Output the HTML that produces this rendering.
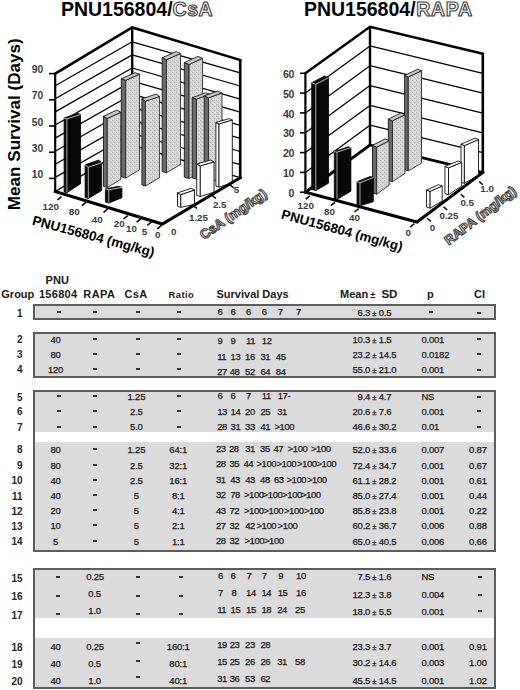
<!DOCTYPE html>
<html><head><meta charset="utf-8">
<style>
html,body{margin:0;padding:0;background:#fff;}
body{width:520px;height:690px;position:relative;overflow:hidden;font-family:"Liberation Sans",sans-serif;color:#2a2a2a;}
b,i{position:absolute;display:block;font-style:normal;white-space:pre;}
b{font-weight:normal;font-size:9.5px;line-height:10px;letter-spacing:-0.2px;color:#1a1a1a;-webkit-text-stroke:0.25px #1a1a1a;}
b.c{width:60px;margin-left:-30px;text-align:center;}
b.r{width:48px;text-align:right;}
b.l{text-align:left;}
b.t{letter-spacing:-0.4px;}
b.g{width:22.6px;text-align:right;font-weight:bold;font-size:10px;line-height:11px;color:#262626;-webkit-text-stroke:0;letter-spacing:0;}
i.d{width:4px;height:2px;background:#333;}
.h{position:absolute;font-weight:bold;font-size:11px;line-height:12px;color:#1a1a1a;white-space:pre;}
.box{position:absolute;left:33px;width:459px;border:2px solid #5c5c5c;background:#dbdbdb;}
.band{position:absolute;left:35px;width:459px;background:#fff;}
svg{position:absolute;left:0;top:0;}
</style></head><body>
<svg width="520" height="262" viewBox="0 0 520 262" font-family="Liberation Sans, sans-serif">
<defs><pattern id="stip" width="4" height="4" patternUnits="userSpaceOnUse"><rect width="4" height="4" fill="#d2d2d2"/><rect x="0" y="0" width="1" height="1" fill="#b0b0b0"/><rect x="2" y="2" width="1" height="1" fill="#b8b8b8"/><rect x="3" y="0" width="1" height="1" fill="#e6e6e6"/><rect x="1" y="3" width="1" height="1" fill="#e2e2e2"/></pattern></defs>
<polygon points="55.2,73.6 132.2,27.4 132.2,145.1 55.2,191.5" fill="#fff"/>
<polygon points="132.2,27.4 240.2,60.0 240.2,177.7 132.2,145.1" fill="#fff"/>
<line x1="55.2" y1="177.4" x2="132.2" y2="133.5" stroke="#000" stroke-width="1.3" stroke-linecap="butt"/>
<line x1="132.2" y1="133.5" x2="240.2" y2="164.6" stroke="#000" stroke-width="1.3" stroke-linecap="butt"/>
<line x1="55.2" y1="164.3" x2="132.2" y2="120.4" stroke="#000" stroke-width="1.3" stroke-linecap="butt"/>
<line x1="132.2" y1="120.4" x2="240.2" y2="151.5" stroke="#000" stroke-width="1.3" stroke-linecap="butt"/>
<line x1="55.2" y1="151.2" x2="132.2" y2="107.3" stroke="#000" stroke-width="1.3" stroke-linecap="butt"/>
<line x1="132.2" y1="107.3" x2="240.2" y2="138.4" stroke="#000" stroke-width="1.3" stroke-linecap="butt"/>
<line x1="55.2" y1="138.1" x2="132.2" y2="94.2" stroke="#000" stroke-width="1.3" stroke-linecap="butt"/>
<line x1="132.2" y1="94.2" x2="240.2" y2="125.3" stroke="#000" stroke-width="1.3" stroke-linecap="butt"/>
<line x1="55.2" y1="125.0" x2="132.2" y2="81.1" stroke="#000" stroke-width="1.3" stroke-linecap="butt"/>
<line x1="132.2" y1="81.1" x2="240.2" y2="112.2" stroke="#000" stroke-width="1.3" stroke-linecap="butt"/>
<line x1="55.2" y1="111.9" x2="132.2" y2="68.0" stroke="#000" stroke-width="1.3" stroke-linecap="butt"/>
<line x1="132.2" y1="68.0" x2="240.2" y2="99.1" stroke="#000" stroke-width="1.3" stroke-linecap="butt"/>
<line x1="55.2" y1="98.8" x2="132.2" y2="54.9" stroke="#000" stroke-width="1.3" stroke-linecap="butt"/>
<line x1="132.2" y1="54.9" x2="240.2" y2="86.0" stroke="#000" stroke-width="1.3" stroke-linecap="butt"/>
<line x1="55.2" y1="85.7" x2="132.2" y2="41.8" stroke="#000" stroke-width="1.3" stroke-linecap="butt"/>
<line x1="132.2" y1="41.8" x2="240.2" y2="72.9" stroke="#000" stroke-width="1.3" stroke-linecap="butt"/>
<polyline points="55.2,191.5 132.2,145.1 240.2,177.7" fill="none" stroke="#000" stroke-width="1.4" stroke-linejoin="miter" stroke-linecap="square"/>
<polyline points="55.2,73.6 132.2,27.4 240.2,60.0" fill="none" stroke="#000" stroke-width="2.6" stroke-linejoin="miter" stroke-linecap="square"/>
<line x1="132.2" y1="27.4" x2="132.2" y2="145.1" stroke="#000" stroke-width="2.4" stroke-linecap="butt"/>
<line x1="240.2" y1="60.0" x2="240.2" y2="177.7" stroke="#000" stroke-width="2.6" stroke-linecap="butt"/>
<line x1="55.2" y1="73.6" x2="55.2" y2="191.5" stroke="#000" stroke-width="2.2" stroke-linecap="butt"/>
<line x1="49.0" y1="178.4" x2="55.2" y2="178.4" stroke="#000" stroke-width="1.6" stroke-linecap="butt"/>
<text x="43.3" y="177.9" font-size="10.3" font-weight="bold" fill="#3a3a3a" text-anchor="end">10</text>
<line x1="49.0" y1="152.2" x2="55.2" y2="152.2" stroke="#000" stroke-width="1.6" stroke-linecap="butt"/>
<text x="43.3" y="151.7" font-size="10.3" font-weight="bold" fill="#3a3a3a" text-anchor="end">30</text>
<line x1="49.0" y1="126.0" x2="55.2" y2="126.0" stroke="#000" stroke-width="1.6" stroke-linecap="butt"/>
<text x="43.3" y="125.5" font-size="10.3" font-weight="bold" fill="#3a3a3a" text-anchor="end">50</text>
<line x1="49.0" y1="99.8" x2="55.2" y2="99.8" stroke="#000" stroke-width="1.6" stroke-linecap="butt"/>
<text x="43.3" y="99.3" font-size="10.3" font-weight="bold" fill="#3a3a3a" text-anchor="end">70</text>
<line x1="49.0" y1="73.6" x2="55.2" y2="73.6" stroke="#000" stroke-width="1.6" stroke-linecap="butt"/>
<text x="43.3" y="73.1" font-size="10.3" font-weight="bold" fill="#3a3a3a" text-anchor="end">90</text>
<polygon points="162.2,57.8 166.5,59.7 166.5,172.8 162.2,171.5" fill="#6a6a6a" stroke="#1a1a1a" stroke-width="0.9" stroke-linejoin="round"/>
<polygon points="166.5,59.7 180.5,53.5 180.5,164.4 166.5,172.8" fill="url(#stip)" stroke="#2a2a2a" stroke-width="0.9" stroke-linejoin="round"/>
<polygon points="166.5,59.7 162.2,57.8 176.2,51.6 180.5,53.5" fill="#c8c8c8" stroke="#1a1a1a" stroke-width="0.9" stroke-linejoin="round"/>
<polygon points="121.3,78.8 125.7,80.3 125.7,178.1 121.3,176.8" fill="#6a6a6a" stroke="#1a1a1a" stroke-width="0.9" stroke-linejoin="round"/>
<polygon points="125.7,80.3 139.5,74.2 139.5,169.8 125.7,178.1" fill="url(#stip)" stroke="#2a2a2a" stroke-width="0.9" stroke-linejoin="round"/>
<polygon points="125.7,80.3 121.3,78.8 135.1,72.7 139.5,74.2" fill="#c8c8c8" stroke="#1a1a1a" stroke-width="0.9" stroke-linejoin="round"/>
<polygon points="184.3,62.6 189.1,64.5 189.1,178.6 184.3,177.2" fill="#6a6a6a" stroke="#1a1a1a" stroke-width="0.9" stroke-linejoin="round"/>
<polygon points="189.1,64.5 202.6,58.3 202.6,170.5 189.1,178.6" fill="url(#stip)" stroke="#2a2a2a" stroke-width="0.9" stroke-linejoin="round"/>
<polygon points="189.1,64.5 184.3,62.6 197.8,56.4 202.6,58.3" fill="#c8c8c8" stroke="#1a1a1a" stroke-width="0.9" stroke-linejoin="round"/>
<polygon points="192.2,97.8 196.5,99.2 196.5,179.2 192.2,177.9" fill="#6a6a6a" stroke="#1a1a1a" stroke-width="0.9" stroke-linejoin="round"/>
<polygon points="196.5,99.2 209.8,94.2 209.8,171.2 196.5,179.2" fill="url(#stip)" stroke="#2a2a2a" stroke-width="0.9" stroke-linejoin="round"/>
<polygon points="196.5,99.2 192.2,97.8 205.5,92.8 209.8,94.2" fill="#c8c8c8" stroke="#1a1a1a" stroke-width="0.9" stroke-linejoin="round"/>
<polygon points="141.9,98.8 145.4,101.2 145.4,186.0 141.9,184.9" fill="#6a6a6a" stroke="#1a1a1a" stroke-width="0.9" stroke-linejoin="round"/>
<polygon points="145.4,101.2 159.6,96.5 159.6,177.5 145.4,186.0" fill="url(#stip)" stroke="#2a2a2a" stroke-width="0.9" stroke-linejoin="round"/>
<polygon points="145.4,101.2 141.9,98.8 156.1,94.1 159.6,96.5" fill="#c8c8c8" stroke="#1a1a1a" stroke-width="0.9" stroke-linejoin="round"/>
<polygon points="204.2,95.9 208.6,97.8 208.6,184.3 204.2,183.0" fill="#6a6a6a" stroke="#1a1a1a" stroke-width="0.9" stroke-linejoin="round"/>
<polygon points="208.6,97.8 222.0,93.0 222.0,176.3 208.6,184.3" fill="url(#stip)" stroke="#2a2a2a" stroke-width="0.9" stroke-linejoin="round"/>
<polygon points="208.6,97.8 204.2,95.9 217.6,91.1 222.0,93.0" fill="#c8c8c8" stroke="#1a1a1a" stroke-width="0.9" stroke-linejoin="round"/>
<polygon points="215.9,122.5 219.0,123.9 219.0,187.1 215.9,186.2" fill="#fff" stroke="#111" stroke-width="0.9" stroke-linejoin="round"/>
<polygon points="219.0,123.9 232.3,120.0 232.3,182.8 219.0,187.1" fill="#fff" stroke="#111" stroke-width="0.9" stroke-linejoin="round"/>
<polygon points="219.0,123.9 215.9,122.5 229.2,118.6 232.3,120.0" fill="#fff" stroke="#111" stroke-width="0.9" stroke-linejoin="round"/>
<polygon points="103.5,116.2 107.3,118.5 107.3,187.5 103.5,186.4" fill="#6a6a6a" stroke="#1a1a1a" stroke-width="0.9" stroke-linejoin="round"/>
<polygon points="107.3,118.5 120.8,112.3 120.8,179.4 107.3,187.5" fill="url(#stip)" stroke="#2a2a2a" stroke-width="0.9" stroke-linejoin="round"/>
<polygon points="107.3,118.5 103.5,116.2 117.0,110.0 120.8,112.3" fill="#c8c8c8" stroke="#1a1a1a" stroke-width="0.9" stroke-linejoin="round"/>
<polygon points="64.1,118.0 66.9,119.0 66.9,192.7 64.1,191.9" fill="#0c0c0c" stroke="#000" stroke-width="0.8" stroke-linejoin="round"/>
<polygon points="66.9,119.0 80.5,114.3 80.5,183.8 66.9,192.7" fill="#080808" stroke="#000" stroke-width="0.8" stroke-linejoin="round"/>
<polygon points="66.9,119.0 64.1,118.0 77.7,113.3 80.5,114.3" fill="#111" stroke="#000" stroke-width="0.8" stroke-linejoin="round"/>
<polyline points="64.4,118.2 66.9,119.0 80.2,114.5" fill="none" stroke="#cfcfcf" stroke-width="0.9" stroke-linejoin="miter" stroke-linecap="square"/>
<line x1="66.9" y1="119.0" x2="66.9" y2="192.2" stroke="#bdbdbd" stroke-width="0.9" stroke-linecap="butt"/>
<polygon points="196.7,164.0 200.3,165.8 200.3,196.5 196.7,195.4" fill="#fff" stroke="#111" stroke-width="0.9" stroke-linejoin="round"/>
<polygon points="200.3,165.8 214.0,161.9 214.0,192.2 200.3,196.5" fill="#fff" stroke="#111" stroke-width="0.9" stroke-linejoin="round"/>
<polygon points="200.3,165.8 196.7,164.0 210.4,160.1 214.0,161.9" fill="#fff" stroke="#111" stroke-width="0.9" stroke-linejoin="round"/>
<polygon points="85.1,164.8 88.3,167.3 88.3,198.5 85.1,197.5" fill="#0c0c0c" stroke="#000" stroke-width="0.8" stroke-linejoin="round"/>
<polygon points="88.3,167.3 101.7,162.6 101.7,190.5 88.3,198.5" fill="#080808" stroke="#000" stroke-width="0.8" stroke-linejoin="round"/>
<polygon points="88.3,167.3 85.1,164.8 98.5,160.1 101.7,162.6" fill="#111" stroke="#000" stroke-width="0.8" stroke-linejoin="round"/>
<polyline points="85.4,165.0 88.3,167.3 101.4,162.8" fill="none" stroke="#cfcfcf" stroke-width="0.9" stroke-linejoin="miter" stroke-linecap="square"/>
<line x1="88.3" y1="167.3" x2="88.3" y2="198.0" stroke="#bdbdbd" stroke-width="0.9" stroke-linecap="butt"/>
<polygon points="105.4,188.8 108.8,189.8 108.8,203.1 105.4,202.1" fill="#0c0c0c" stroke="#000" stroke-width="0.8" stroke-linejoin="round"/>
<polygon points="108.8,189.8 121.9,187.3 121.9,197.7 108.8,203.1" fill="#080808" stroke="#000" stroke-width="0.8" stroke-linejoin="round"/>
<polygon points="108.8,189.8 105.4,188.8 118.5,186.3 121.9,187.3" fill="#111" stroke="#000" stroke-width="0.8" stroke-linejoin="round"/>
<polyline points="105.7,189.0 108.8,189.8 121.6,187.5" fill="none" stroke="#cfcfcf" stroke-width="0.9" stroke-linejoin="miter" stroke-linecap="square"/>
<line x1="108.8" y1="189.8" x2="108.8" y2="202.6" stroke="#bdbdbd" stroke-width="0.9" stroke-linecap="butt"/>
<polygon points="177.5,192.9 180.8,194.6 180.8,207.3 177.5,206.3" fill="#fff" stroke="#111" stroke-width="0.9" stroke-linejoin="round"/>
<polygon points="180.8,194.6 194.5,190.0 194.5,204.4 180.8,207.3" fill="#fff" stroke="#111" stroke-width="0.9" stroke-linejoin="round"/>
<polygon points="180.8,194.6 177.5,192.9 191.2,188.3 194.5,190.0" fill="#fff" stroke="#111" stroke-width="0.9" stroke-linejoin="round"/>
<polyline points="55.2,191.5 162.3,224.0 240.2,177.7" fill="none" stroke="#000" stroke-width="3.0" stroke-linejoin="miter" stroke-linecap="square"/>
<line x1="61.5" y1="196.6" x2="57.3" y2="200.0" stroke="#000" stroke-width="1.5" stroke-linecap="butt"/>
<line x1="86.2" y1="202.2" x2="82.0" y2="205.6" stroke="#000" stroke-width="1.5" stroke-linecap="butt"/>
<line x1="107.7" y1="209.0" x2="103.5" y2="212.4" stroke="#000" stroke-width="1.5" stroke-linecap="butt"/>
<line x1="127.7" y1="215.6" x2="123.5" y2="219.0" stroke="#000" stroke-width="1.5" stroke-linecap="butt"/>
<line x1="140.8" y1="218.8" x2="136.6" y2="222.2" stroke="#000" stroke-width="1.5" stroke-linecap="butt"/>
<line x1="151.5" y1="222.0" x2="147.3" y2="225.4" stroke="#000" stroke-width="1.5" stroke-linecap="butt"/>
<line x1="161.5" y1="225.4" x2="157.3" y2="228.8" stroke="#000" stroke-width="1.5" stroke-linecap="butt"/>
<text x="50.8" y="209.9" font-size="9.8" font-weight="bold" fill="#3a3a3a" text-anchor="middle">120</text>
<text x="74.2" y="214.9" font-size="9.8" font-weight="bold" fill="#3a3a3a" text-anchor="middle">80</text>
<text x="97.3" y="223.0" font-size="9.8" font-weight="bold" fill="#3a3a3a" text-anchor="middle">40</text>
<text x="119.2" y="226.9" font-size="9.8" font-weight="bold" fill="#3a3a3a" text-anchor="middle">20</text>
<text x="131.5" y="232.2" font-size="9.8" font-weight="bold" fill="#3a3a3a" text-anchor="middle">10</text>
<text x="144.6" y="235.3" font-size="9.8" font-weight="bold" fill="#3a3a3a" text-anchor="middle">5</text>
<text x="157.7" y="237.6" font-size="9.8" font-weight="bold" fill="#3a3a3a" text-anchor="middle">0</text>
<text x="173.8" y="234.9" font-size="9.8" font-weight="bold" fill="#3a3a3a" text-anchor="middle">0</text>
<text x="198.5" y="220.8" font-size="9.8" font-weight="bold" fill="#3a3a3a" text-anchor="middle">1.25</text>
<text x="219.7" y="208.0" font-size="9.8" font-weight="bold" fill="#3a3a3a" text-anchor="middle">2.5</text>
<text x="236.5" y="193.4" font-size="9.8" font-weight="bold" fill="#3a3a3a" text-anchor="middle">5</text>
<line x1="192.9" y1="205.3" x2="196.9" y2="208.3" stroke="#000" stroke-width="1.5" stroke-linecap="butt"/>
<line x1="211.9" y1="195.4" x2="215.9" y2="198.4" stroke="#000" stroke-width="1.5" stroke-linecap="butt"/>
<line x1="230.0" y1="185.0" x2="234.0" y2="188.0" stroke="#000" stroke-width="1.5" stroke-linecap="butt"/>
<text transform="translate(19.7,210.2) rotate(-90)" font-size="17.1" font-weight="bold" fill="#000">Mean Survival (Days)</text>
<text transform="translate(31.4,224.4) rotate(15)" font-size="13.5" font-weight="bold" fill="#000">PNU156804 (mg/kg)</text>
<text transform="translate(203.8,240.0) rotate(-34.6)" font-size="13.3" font-weight="bold" fill="#fff" stroke="#444" stroke-width="1.1">CsA (mg/kg)</text>
<text x="60.9" y="15.6" font-size="19.5" font-weight="bold" fill="#000">PNU156804/<tspan fill="#fff" stroke="#3a3a3a" stroke-width="1.1" letter-spacing="0.5">CsA</tspan></text>
<polygon points="305.4,73.3 370.0,26.8 370.0,145.0 305.4,192.2" fill="#fff"/>
<polygon points="370.0,26.8 482.8,53.6 482.8,172.5 370.0,145.0" fill="#fff"/>
<line x1="305.4" y1="172.4" x2="370.0" y2="125.2" stroke="#000" stroke-width="1.3" stroke-linecap="butt"/>
<line x1="370.0" y1="125.2" x2="482.8" y2="152.7" stroke="#000" stroke-width="1.3" stroke-linecap="butt"/>
<line x1="305.4" y1="152.6" x2="370.0" y2="105.4" stroke="#000" stroke-width="1.3" stroke-linecap="butt"/>
<line x1="370.0" y1="105.4" x2="482.8" y2="132.9" stroke="#000" stroke-width="1.3" stroke-linecap="butt"/>
<line x1="305.4" y1="132.8" x2="370.0" y2="85.6" stroke="#000" stroke-width="1.3" stroke-linecap="butt"/>
<line x1="370.0" y1="85.6" x2="482.8" y2="113.1" stroke="#000" stroke-width="1.3" stroke-linecap="butt"/>
<line x1="305.4" y1="112.9" x2="370.0" y2="65.7" stroke="#000" stroke-width="1.3" stroke-linecap="butt"/>
<line x1="370.0" y1="65.7" x2="482.8" y2="93.2" stroke="#000" stroke-width="1.3" stroke-linecap="butt"/>
<line x1="305.4" y1="93.1" x2="370.0" y2="45.9" stroke="#000" stroke-width="1.3" stroke-linecap="butt"/>
<line x1="370.0" y1="45.9" x2="482.8" y2="73.4" stroke="#000" stroke-width="1.3" stroke-linecap="butt"/>
<polyline points="305.4,192.2 370.0,145.0 482.8,172.5" fill="none" stroke="#000" stroke-width="2.8" stroke-linejoin="miter" stroke-linecap="square"/>
<polyline points="305.4,73.3 370.0,26.8 482.8,53.6" fill="none" stroke="#000" stroke-width="2.6" stroke-linejoin="miter" stroke-linecap="square"/>
<line x1="370.0" y1="26.8" x2="370.0" y2="145.0" stroke="#000" stroke-width="2.4" stroke-linecap="butt"/>
<line x1="482.8" y1="53.6" x2="482.8" y2="172.5" stroke="#000" stroke-width="2.6" stroke-linecap="butt"/>
<line x1="305.4" y1="73.3" x2="305.4" y2="192.2" stroke="#000" stroke-width="2.2" stroke-linecap="butt"/>
<line x1="300.0" y1="192.2" x2="305.4" y2="192.2" stroke="#000" stroke-width="1.6" stroke-linecap="butt"/>
<text x="294.0" y="196.8" font-size="10.6" font-weight="bold" fill="#3a3a3a" text-anchor="end" letter-spacing="-0.4">0</text>
<line x1="300.0" y1="172.4" x2="305.4" y2="172.4" stroke="#000" stroke-width="1.6" stroke-linecap="butt"/>
<text x="294.0" y="177.0" font-size="10.6" font-weight="bold" fill="#3a3a3a" text-anchor="end" letter-spacing="-0.4">10</text>
<line x1="300.0" y1="152.6" x2="305.4" y2="152.6" stroke="#000" stroke-width="1.6" stroke-linecap="butt"/>
<text x="294.0" y="157.2" font-size="10.6" font-weight="bold" fill="#3a3a3a" text-anchor="end" letter-spacing="-0.4">20</text>
<line x1="300.0" y1="132.8" x2="305.4" y2="132.8" stroke="#000" stroke-width="1.6" stroke-linecap="butt"/>
<text x="294.0" y="137.3" font-size="10.6" font-weight="bold" fill="#3a3a3a" text-anchor="end" letter-spacing="-0.4">30</text>
<line x1="300.0" y1="112.9" x2="305.4" y2="112.9" stroke="#000" stroke-width="1.6" stroke-linecap="butt"/>
<text x="294.0" y="117.5" font-size="10.6" font-weight="bold" fill="#3a3a3a" text-anchor="end" letter-spacing="-0.4">40</text>
<line x1="300.0" y1="93.1" x2="305.4" y2="93.1" stroke="#000" stroke-width="1.6" stroke-linecap="butt"/>
<text x="294.0" y="97.7" font-size="10.6" font-weight="bold" fill="#3a3a3a" text-anchor="end" letter-spacing="-0.4">50</text>
<line x1="300.0" y1="73.3" x2="305.4" y2="73.3" stroke="#000" stroke-width="1.6" stroke-linecap="butt"/>
<text x="294.0" y="77.9" font-size="10.6" font-weight="bold" fill="#3a3a3a" text-anchor="end" letter-spacing="-0.4">60</text>
<polygon points="404.6,75.4 408.3,77.0 408.3,170.8 404.6,169.7" fill="#6a6a6a" stroke="#1a1a1a" stroke-width="0.9" stroke-linejoin="round"/>
<polygon points="408.3,77.0 421.5,70.8 421.5,163.3 408.3,170.8" fill="url(#stip)" stroke="#2a2a2a" stroke-width="0.9" stroke-linejoin="round"/>
<polygon points="408.3,77.0 404.6,75.4 417.8,69.2 421.5,70.8" fill="#c8c8c8" stroke="#1a1a1a" stroke-width="0.9" stroke-linejoin="round"/>
<polygon points="388.3,119.2 392.5,120.8 392.5,181.7 388.3,180.4" fill="#6a6a6a" stroke="#1a1a1a" stroke-width="0.9" stroke-linejoin="round"/>
<polygon points="392.5,120.8 405.0,114.7 405.0,173.3 392.5,181.7" fill="url(#stip)" stroke="#2a2a2a" stroke-width="0.9" stroke-linejoin="round"/>
<polygon points="392.5,120.8 388.3,119.2 400.8,113.1 405.0,114.7" fill="#c8c8c8" stroke="#1a1a1a" stroke-width="0.9" stroke-linejoin="round"/>
<polygon points="461.0,144.2 464.4,145.6 464.4,183.3 461.0,182.3" fill="#fff" stroke="#111" stroke-width="0.9" stroke-linejoin="round"/>
<polygon points="464.4,145.6 478.5,139.5 478.5,175.2 464.4,183.3" fill="#fff" stroke="#111" stroke-width="0.9" stroke-linejoin="round"/>
<polygon points="464.4,145.6 461.0,144.2 475.1,138.1 478.5,139.5" fill="#fff" stroke="#111" stroke-width="0.9" stroke-linejoin="round"/>
<polygon points="311.7,82.7 315.8,84.3 315.8,190.6 311.7,189.4" fill="#0c0c0c" stroke="#000" stroke-width="0.8" stroke-linejoin="round"/>
<polygon points="315.8,84.3 328.5,77.7 328.5,183.2 315.8,190.6" fill="#080808" stroke="#000" stroke-width="0.8" stroke-linejoin="round"/>
<polygon points="315.8,84.3 311.7,82.7 324.4,76.1 328.5,77.7" fill="#111" stroke="#000" stroke-width="0.8" stroke-linejoin="round"/>
<polyline points="312.0,82.9 315.8,84.3 328.2,77.9" fill="none" stroke="#cfcfcf" stroke-width="0.9" stroke-linejoin="miter" stroke-linecap="square"/>
<line x1="315.8" y1="84.3" x2="315.8" y2="190.1" stroke="#bdbdbd" stroke-width="0.9" stroke-linecap="butt"/>
<polygon points="372.5,145.3 376.7,147.2 376.7,194.2 372.5,192.9" fill="#6a6a6a" stroke="#1a1a1a" stroke-width="0.9" stroke-linejoin="round"/>
<polygon points="376.7,147.2 389.2,140.8 389.2,185.0 376.7,194.2" fill="url(#stip)" stroke="#2a2a2a" stroke-width="0.9" stroke-linejoin="round"/>
<polygon points="376.7,147.2 372.5,145.3 385.0,138.9 389.2,140.8" fill="#c8c8c8" stroke="#1a1a1a" stroke-width="0.9" stroke-linejoin="round"/>
<polygon points="444.9,166.4 448.5,167.8 448.5,194.7 444.9,193.6" fill="#fff" stroke="#111" stroke-width="0.9" stroke-linejoin="round"/>
<polygon points="448.5,167.8 461.7,162.4 461.7,186.0 448.5,194.7" fill="#fff" stroke="#111" stroke-width="0.9" stroke-linejoin="round"/>
<polygon points="448.5,167.8 444.9,166.4 458.1,161.0 461.7,162.4" fill="#fff" stroke="#111" stroke-width="0.9" stroke-linejoin="round"/>
<polygon points="334.3,151.5 337.0,152.2 337.0,199.5 334.3,198.7" fill="#0c0c0c" stroke="#000" stroke-width="0.8" stroke-linejoin="round"/>
<polygon points="337.0,152.2 350.9,147.5 350.9,191.2 337.0,199.5" fill="#080808" stroke="#000" stroke-width="0.8" stroke-linejoin="round"/>
<polygon points="337.0,152.2 334.3,151.5 348.2,146.8 350.9,147.5" fill="#111" stroke="#000" stroke-width="0.8" stroke-linejoin="round"/>
<polyline points="334.6,151.7 337.0,152.2 350.6,147.7" fill="none" stroke="#cfcfcf" stroke-width="0.9" stroke-linejoin="miter" stroke-linecap="square"/>
<line x1="337.0" y1="152.2" x2="337.0" y2="199.0" stroke="#bdbdbd" stroke-width="0.9" stroke-linecap="butt"/>
<polygon points="357.0,181.7 360.0,182.8 360.0,205.8 357.0,204.9" fill="#0c0c0c" stroke="#000" stroke-width="0.8" stroke-linejoin="round"/>
<polygon points="360.0,182.8 373.3,177.5 373.3,201.7 360.0,205.8" fill="#080808" stroke="#000" stroke-width="0.8" stroke-linejoin="round"/>
<polygon points="360.0,182.8 357.0,181.7 370.3,176.4 373.3,177.5" fill="#111" stroke="#000" stroke-width="0.8" stroke-linejoin="round"/>
<polyline points="357.3,181.9 360.0,182.8 373.0,177.7" fill="none" stroke="#cfcfcf" stroke-width="0.9" stroke-linejoin="miter" stroke-linecap="square"/>
<line x1="360.0" y1="182.8" x2="360.0" y2="205.3" stroke="#bdbdbd" stroke-width="0.9" stroke-linecap="butt"/>
<polygon points="426.5,190.0 430.1,191.3 430.1,208.2 426.5,207.1" fill="#fff" stroke="#111" stroke-width="0.9" stroke-linejoin="round"/>
<polygon points="430.1,191.3 442.2,186.0 442.2,200.9 430.1,208.2" fill="#fff" stroke="#111" stroke-width="0.9" stroke-linejoin="round"/>
<polygon points="430.1,191.3 426.5,190.0 438.6,184.7 442.2,186.0" fill="#fff" stroke="#111" stroke-width="0.9" stroke-linejoin="round"/>
<polyline points="305.4,192.2 417.0,222.0 482.8,172.5" fill="none" stroke="#000" stroke-width="3.0" stroke-linejoin="miter" stroke-linecap="square"/>
<line x1="309.9" y1="195.8" x2="305.7" y2="199.2" stroke="#000" stroke-width="1.5" stroke-linecap="butt"/>
<line x1="335.0" y1="202.3" x2="330.8" y2="205.7" stroke="#000" stroke-width="1.5" stroke-linecap="butt"/>
<line x1="358.7" y1="208.6" x2="354.5" y2="212.0" stroke="#000" stroke-width="1.5" stroke-linecap="butt"/>
<line x1="414.4" y1="223.6" x2="410.2" y2="227.0" stroke="#000" stroke-width="1.5" stroke-linecap="butt"/>
<line x1="427.3" y1="218.3" x2="430.9" y2="221.5" stroke="#000" stroke-width="1.5" stroke-linecap="butt"/>
<line x1="443.5" y1="206.8" x2="447.1" y2="210.0" stroke="#000" stroke-width="1.5" stroke-linecap="butt"/>
<line x1="460.8" y1="194.2" x2="464.4" y2="197.4" stroke="#000" stroke-width="1.5" stroke-linecap="butt"/>
<line x1="479.2" y1="181.5" x2="482.8" y2="184.7" stroke="#000" stroke-width="1.5" stroke-linecap="butt"/>
<text x="305.7" y="208.5" font-size="9.8" font-weight="bold" fill="#3a3a3a" text-anchor="middle">120</text>
<text x="329.4" y="215.4" font-size="9.8" font-weight="bold" fill="#3a3a3a" text-anchor="middle">80</text>
<text x="354.5" y="221.3" font-size="9.8" font-weight="bold" fill="#3a3a3a" text-anchor="middle">40</text>
<text x="408.3" y="235.8" font-size="9.8" font-weight="bold" fill="#3a3a3a" text-anchor="middle">0</text>
<text x="432.6" y="230.8" font-size="9.8" font-weight="bold" fill="#3a3a3a" text-anchor="middle">0</text>
<text x="449.0" y="218.7" font-size="9.8" font-weight="bold" fill="#3a3a3a" text-anchor="middle">0.25</text>
<text x="467.2" y="205.8" font-size="9.8" font-weight="bold" fill="#3a3a3a" text-anchor="middle">0.5</text>
<text x="487.1" y="192.4" font-size="9.8" font-weight="bold" fill="#3a3a3a" text-anchor="middle">1.0</text>
<text transform="translate(280.6,218.3) rotate(15.3)" font-size="13.4" font-weight="bold" fill="#000">PNU156804 (mg/kg)</text>
<text transform="translate(448.8,245.6) rotate(-37.8)" font-size="13.1" font-weight="bold" fill="#fff" stroke="#444" stroke-width="1.1">RAPA (mg/kg)</text>
<text x="303.9" y="15.6" font-size="19.5" font-weight="bold" fill="#000">PNU156804/<tspan dx="0.8" fill="#fff" stroke="#3a3a3a" stroke-width="1.1" letter-spacing="0.6">RAPA</tspan></text>
</svg>
<div class="box" style="top:304px;height:12px"></div>
<div class="box" style="top:332px;height:42px"></div>
<div class="box" style="top:390px;height:158px"></div>
<div class="band" style="top:432px;height:10px"></div>
<div class="box" style="top:568px;height:117px"></div>
<div class="band" style="top:618px;height:20px"></div>
<div class="h" style="left:45.4px;top:274.3px;letter-spacing:0.2px">PNU</div>
<div class="h" style="left:1.3px;top:288.3px">Group</div>
<div class="h" style="left:38.9px;top:288.3px;letter-spacing:0.3px">156804</div>
<div class="h" style="left:83.2px;top:288.3px;letter-spacing:0.5px">RAPA</div>
<div class="h" style="left:124.4px;top:288.3px;letter-spacing:0.4px">CsA</div>
<div class="h" style="left:168.6px;top:288.6px;font-size:9.4px;letter-spacing:0.45px">Ratio</div>
<div class="h" style="left:216.5px;top:288.3px">Survival Days</div>
<div class="h" style="left:340px;top:288.3px">Mean</div><div class="h" style="left:370.2px;top:289.2px;font-size:9.4px">&plusmn;</div><div class="h" style="left:381.4px;top:287.8px;font-size:11.6px">SD</div>
<div class="h" style="left:427px;top:288.3px">p</div>
<div class="h" style="left:474px;top:288.3px">CI</div>
<b class="g" style="left:0;top:307.5px">1</b>
<i class="d" style="left:57px;top:311px"></i>
<i class="d" style="left:93px;top:311px"></i>
<i class="d" style="left:136px;top:311px"></i>
<i class="d" style="left:177px;top:311px"></i>
<b class="l t" style="left:217.6px;top:306.8px">6</b>
<b class="l t" style="left:230.6px;top:306.8px">6</b>
<b class="l t" style="left:246.0px;top:306.8px">6</b>
<b class="l t" style="left:261.8px;top:306.8px">6</b>
<b class="l t" style="left:277.7px;top:306.8px">7</b>
<b class="l t" style="left:296.0px;top:306.8px">7</b>
<b class="r" style="left:322.2px;top:308.0px">6.3</b>
<b class="l" style="left:372.3px;top:308.0px"><span style="font-size:7.6px">&plusmn;</span> 0.5</b>
<i class="d" style="left:429px;top:311px"></i>
<i class="d" style="left:477px;top:312px"></i>
<b class="g" style="left:0;top:334.2px">2</b>
<b class="c" style="left:55.6px;top:334.7px">40</b>
<i class="d" style="left:93px;top:338px"></i>
<i class="d" style="left:136px;top:338px"></i>
<i class="d" style="left:177px;top:338px"></i>
<b class="l t" style="left:217.6px;top:336.4px">9</b>
<b class="l t" style="left:230.6px;top:336.4px">9</b>
<b class="l t" style="left:246.0px;top:336.4px">11</b>
<b class="l t" style="left:261.8px;top:336.4px">12</b>
<b class="r" style="left:322.2px;top:334.7px">10.3</b>
<b class="l" style="left:372.3px;top:334.7px"><span style="font-size:7.6px">&plusmn;</span> 1.5</b>
<b class="l" style="left:421.4px;top:334.7px">0.001</b>
<i class="d" style="left:477px;top:338px"></i>
<b class="g" style="left:0;top:349.0px">3</b>
<b class="c" style="left:55.6px;top:349.5px">80</b>
<i class="d" style="left:93px;top:353px"></i>
<i class="d" style="left:136px;top:353px"></i>
<i class="d" style="left:177px;top:353px"></i>
<b class="l t" style="left:217.2px;top:351.8px">11</b>
<b class="l t" style="left:230.6px;top:351.8px">13</b>
<b class="l t" style="left:245.1px;top:351.8px">16</b>
<b class="l t" style="left:260.4px;top:351.8px">31</b>
<b class="l t" style="left:275.8px;top:351.8px">45</b>
<b class="r" style="left:322.2px;top:349.5px">23.2</b>
<b class="l" style="left:372.3px;top:349.5px"><span style="font-size:7.6px">&plusmn;</span> 14.5</b>
<b class="l" style="left:421.4px;top:349.5px">0.0182</b>
<i class="d" style="left:477px;top:353px"></i>
<b class="g" style="left:0;top:364.4px">4</b>
<b class="c" style="left:55.6px;top:364.9px">120</b>
<i class="d" style="left:93px;top:368px"></i>
<i class="d" style="left:136px;top:368px"></i>
<i class="d" style="left:177px;top:368px"></i>
<b class="l t" style="left:217.2px;top:366.9px">27</b>
<b class="l t" style="left:229.7px;top:366.9px">48</b>
<b class="l t" style="left:245.1px;top:366.9px">52</b>
<b class="l t" style="left:260.4px;top:366.9px">64</b>
<b class="l t" style="left:275.8px;top:366.9px">84</b>
<b class="r" style="left:322.2px;top:364.9px">55.0</b>
<b class="l" style="left:372.3px;top:364.9px"><span style="font-size:7.6px">&plusmn;</span> 21.0</b>
<b class="l" style="left:421.4px;top:364.9px">0.001</b>
<i class="d" style="left:477px;top:369px"></i>
<b class="g" style="left:0;top:391.6px">5</b>
<i class="d" style="left:57px;top:395px"></i>
<i class="d" style="left:93px;top:395px"></i>
<b class="c" style="left:136.4px;top:392.1px">1.25</b>
<i class="d" style="left:177px;top:395px"></i>
<b class="l t" style="left:217.6px;top:391.2px">6</b>
<b class="l t" style="left:230.6px;top:391.2px">6</b>
<b class="l t" style="left:246.0px;top:391.2px">7</b>
<b class="l t" style="left:261.8px;top:391.2px">11</b>
<b class="l t" style="left:277.7px;top:391.2px">17-</b>
<b class="r" style="left:322.2px;top:392.1px">9.4</b>
<b class="l" style="left:372.3px;top:392.1px"><span style="font-size:7.6px">&plusmn;</span> 4.7</b>
<b class="l" style="left:421.4px;top:392.1px">NS</b>
<i class="d" style="left:477px;top:396px"></i>
<b class="g" style="left:0;top:406.3px">6</b>
<i class="d" style="left:57px;top:410px"></i>
<i class="d" style="left:93px;top:410px"></i>
<b class="c" style="left:136.4px;top:406.8px">2.5</b>
<i class="d" style="left:177px;top:410px"></i>
<b class="l t" style="left:217.2px;top:406.7px">13</b>
<b class="l t" style="left:230.6px;top:406.7px">14</b>
<b class="l t" style="left:245.1px;top:406.7px">20</b>
<b class="l t" style="left:260.4px;top:406.7px">25</b>
<b class="l t" style="left:277.2px;top:406.7px">31</b>
<b class="r" style="left:322.2px;top:406.8px">20.6</b>
<b class="l" style="left:372.3px;top:406.8px"><span style="font-size:7.6px">&plusmn;</span> 7.6</b>
<b class="l" style="left:421.4px;top:406.8px">0.001</b>
<i class="d" style="left:477px;top:410px"></i>
<b class="g" style="left:0;top:421.8px">7</b>
<i class="d" style="left:57px;top:426px"></i>
<i class="d" style="left:93px;top:426px"></i>
<b class="c" style="left:136.4px;top:422.3px">5.0</b>
<i class="d" style="left:177px;top:426px"></i>
<b class="l t" style="left:217.2px;top:421.7px">28</b>
<b class="l t" style="left:230.6px;top:421.7px">31</b>
<b class="l t" style="left:245.1px;top:421.7px">33</b>
<b class="l t" style="left:260.4px;top:421.7px">41</b>
<b class="l t" style="left:274.4px;top:421.7px">&gt;100</b>
<b class="r" style="left:322.2px;top:422.3px">46.6</b>
<b class="l" style="left:372.3px;top:422.3px"><span style="font-size:7.6px">&plusmn;</span> 30.2</b>
<b class="l" style="left:421.4px;top:422.3px">0.01</b>
<i class="d" style="left:477px;top:426px"></i>
<b class="g" style="left:0;top:444.4px">8</b>
<b class="c" style="left:55.6px;top:444.9px">80</b>
<i class="d" style="left:93px;top:448px"></i>
<b class="c" style="left:136.4px;top:444.9px">1.25</b>
<b class="c" style="left:178.2px;top:444.9px">64:1</b>
<b class="l t" style="left:215.9px;top:444.0px">23</b>
<b class="l t" style="left:228.9px;top:444.0px">28</b>
<b class="l t" style="left:245.2px;top:444.0px">31</b>
<b class="l t" style="left:260.1px;top:444.0px">35</b>
<b class="l t" style="left:273.4px;top:444.0px">47</b>
<b class="l t" style="left:287.6px;top:444.0px">&gt;100</b>
<b class="l t" style="left:310.9px;top:444.0px">&gt;100</b>
<b class="r" style="left:322.2px;top:444.9px">52.0</b>
<b class="l" style="left:372.3px;top:444.9px"><span style="font-size:7.6px">&plusmn;</span> 33.6</b>
<b class="l" style="left:421.4px;top:444.9px">0.007</b>
<b class="r" style="left:438.8px;top:444.9px">0.87</b>
<b class="g" style="left:0;top:460.0px">9</b>
<b class="c" style="left:55.6px;top:460.5px">80</b>
<i class="d" style="left:93px;top:464px"></i>
<b class="c" style="left:136.4px;top:460.5px">2.5</b>
<b class="c" style="left:178.2px;top:460.5px">32:1</b>
<b class="l t" style="left:215.9px;top:459.3px">28</b>
<b class="l t" style="left:229.4px;top:459.3px">35</b>
<b class="l t" style="left:243.4px;top:459.3px">44</b>
<b class="l t" style="left:256.4px;top:459.3px">&gt;100</b>
<b class="l t" style="left:276.4px;top:459.3px">&gt;100</b>
<b class="l t" style="left:296.9px;top:459.3px">&gt;100</b>
<b class="l t" style="left:316.4px;top:459.3px">&gt;100</b>
<b class="r" style="left:322.2px;top:460.5px">72.4</b>
<b class="l" style="left:372.3px;top:460.5px"><span style="font-size:7.6px">&plusmn;</span> 34.7</b>
<b class="l" style="left:421.4px;top:460.5px">0.001</b>
<b class="r" style="left:438.8px;top:460.5px">0.67</b>
<b class="g" style="left:0;top:475.1px">10</b>
<b class="c" style="left:55.6px;top:475.6px">40</b>
<i class="d" style="left:93px;top:479px"></i>
<b class="c" style="left:136.4px;top:475.6px">2.5</b>
<b class="c" style="left:178.2px;top:475.6px">16:1</b>
<b class="l t" style="left:215.9px;top:474.5px">31</b>
<b class="l t" style="left:230.2px;top:474.5px">43</b>
<b class="l t" style="left:245.2px;top:474.5px">43</b>
<b class="l t" style="left:260.1px;top:474.5px">48</b>
<b class="l t" style="left:273.9px;top:474.5px">63</b>
<b class="l t" style="left:286.4px;top:474.5px">&gt;100</b>
<b class="l t" style="left:306.9px;top:474.5px">&gt;100</b>
<b class="r" style="left:322.2px;top:475.6px">61.1</b>
<b class="l" style="left:372.3px;top:475.6px"><span style="font-size:7.6px">&plusmn;</span> 28.2</b>
<b class="l" style="left:421.4px;top:475.6px">0.001</b>
<b class="r" style="left:438.8px;top:475.6px">0.61</b>
<b class="g" style="left:0;top:490.6px">11</b>
<b class="c" style="left:55.6px;top:491.1px">40</b>
<i class="d" style="left:93px;top:494px"></i>
<b class="c" style="left:136.4px;top:491.1px">5</b>
<b class="c" style="left:178.2px;top:491.1px">8:1</b>
<b class="l t" style="left:215.9px;top:490.0px">32</b>
<b class="l t" style="left:230.2px;top:490.0px">78</b>
<b class="l t" style="left:243.9px;top:490.0px">&gt;100</b>
<b class="l t" style="left:262.6px;top:490.0px">&gt;100</b>
<b class="l t" style="left:282.1px;top:490.0px">&gt;100</b>
<b class="l t" style="left:300.9px;top:490.0px">&gt;100</b>
<b class="r" style="left:322.2px;top:491.1px">85.0</b>
<b class="l" style="left:372.3px;top:491.1px"><span style="font-size:7.6px">&plusmn;</span> 27.4</b>
<b class="l" style="left:421.4px;top:491.1px">0.001</b>
<b class="r" style="left:438.8px;top:491.1px">0.44</b>
<b class="g" style="left:0;top:505.7px">12</b>
<b class="c" style="left:55.6px;top:506.2px">20</b>
<i class="d" style="left:93px;top:509px"></i>
<b class="c" style="left:136.4px;top:506.2px">5</b>
<b class="c" style="left:178.2px;top:506.2px">4:1</b>
<b class="l t" style="left:215.9px;top:505.5px">43</b>
<b class="l t" style="left:229.4px;top:505.5px">72</b>
<b class="l t" style="left:243.9px;top:505.5px">&gt;100</b>
<b class="l t" style="left:263.4px;top:505.5px">&gt;100</b>
<b class="l t" style="left:283.9px;top:505.5px">&gt;100</b>
<b class="l t" style="left:303.9px;top:505.5px">&gt;100</b>
<b class="r" style="left:322.2px;top:506.2px">85.8</b>
<b class="l" style="left:372.3px;top:506.2px"><span style="font-size:7.6px">&plusmn;</span> 23.8</b>
<b class="l" style="left:421.4px;top:506.2px">0.001</b>
<b class="r" style="left:438.8px;top:506.2px">0.22</b>
<b class="g" style="left:0;top:520.8px">13</b>
<b class="c" style="left:55.6px;top:521.3px">10</b>
<i class="d" style="left:93px;top:524px"></i>
<b class="c" style="left:136.4px;top:521.3px">5</b>
<b class="c" style="left:178.2px;top:521.3px">2:1</b>
<b class="l t" style="left:215.9px;top:520.5px">27</b>
<b class="l t" style="left:229.4px;top:520.5px">32</b>
<b class="l t" style="left:245.2px;top:520.5px">42</b>
<b class="l t" style="left:256.4px;top:520.5px">&gt;100</b>
<b class="l t" style="left:277.6px;top:520.5px">&gt;100</b>
<b class="r" style="left:322.2px;top:521.3px">60.2</b>
<b class="l" style="left:372.3px;top:521.3px"><span style="font-size:7.6px">&plusmn;</span> 36.7</b>
<b class="l" style="left:421.4px;top:521.3px">0.006</b>
<b class="r" style="left:438.8px;top:521.3px">0.88</b>
<b class="g" style="left:0;top:536.3px">14</b>
<b class="c" style="left:55.6px;top:536.8px">5</b>
<i class="d" style="left:93px;top:540px"></i>
<b class="c" style="left:136.4px;top:536.8px">5</b>
<b class="c" style="left:178.2px;top:536.8px">1:1</b>
<b class="l t" style="left:215.9px;top:535.7px">28</b>
<b class="l t" style="left:229.4px;top:535.7px">32</b>
<b class="l t" style="left:244.4px;top:535.7px">&gt;100</b>
<b class="l t" style="left:263.9px;top:535.7px">&gt;100</b>
<b class="r" style="left:322.2px;top:536.8px">65.0</b>
<b class="l" style="left:372.3px;top:536.8px"><span style="font-size:7.6px">&plusmn;</span> 40.5</b>
<b class="l" style="left:421.4px;top:536.8px">0.006</b>
<b class="r" style="left:438.8px;top:536.8px">0.66</b>
<b class="g" style="left:0;top:572.7px">15</b>
<i class="d" style="left:56px;top:576px"></i>
<b class="l" style="left:86.2px;top:572.2px">0.25</b>
<i class="d" style="left:136px;top:576px"></i>
<i class="d" style="left:179px;top:576px"></i>
<b class="l t" style="left:218.1px;top:570.7px">6</b>
<b class="l t" style="left:230.6px;top:570.7px">6</b>
<b class="l t" style="left:246.4px;top:570.7px">7</b>
<b class="l t" style="left:261.8px;top:570.7px">7</b>
<b class="l t" style="left:278.3px;top:570.7px">9</b>
<b class="l t" style="left:296.0px;top:570.7px">10</b>
<b class="r" style="left:322.2px;top:572.2px">7.5</b>
<b class="l" style="left:372.3px;top:572.2px"><span style="font-size:7.6px">&plusmn;</span> 1.6</b>
<b class="l" style="left:421.4px;top:572.2px">NS</b>
<i class="d" style="left:478px;top:576px"></i>
<b class="g" style="left:0;top:590.9px">16</b>
<i class="d" style="left:56px;top:595px"></i>
<b class="l" style="left:88.3px;top:589.2px">0.5</b>
<i class="d" style="left:136px;top:595px"></i>
<i class="d" style="left:179px;top:595px"></i>
<b class="l t" style="left:218.1px;top:587.6px">7</b>
<b class="l t" style="left:231.6px;top:587.6px">8</b>
<b class="l t" style="left:246.0px;top:587.6px">14</b>
<b class="l t" style="left:261.4px;top:587.6px">14</b>
<b class="l t" style="left:277.7px;top:587.6px">15</b>
<b class="l t" style="left:296.0px;top:587.6px">16</b>
<b class="r" style="left:322.2px;top:589.8px">12.3</b>
<b class="l" style="left:372.3px;top:589.8px"><span style="font-size:7.6px">&plusmn;</span> 3.8</b>
<b class="l" style="left:421.4px;top:589.8px">0.004</b>
<i class="d" style="left:478px;top:594px"></i>
<b class="g" style="left:0;top:609.5px">17</b>
<i class="d" style="left:56px;top:613px"></i>
<b class="l" style="left:88.3px;top:606.1px">1.0</b>
<i class="d" style="left:136px;top:613px"></i>
<i class="d" style="left:179px;top:613px"></i>
<b class="l t" style="left:217.2px;top:604.9px">11</b>
<b class="l t" style="left:230.6px;top:604.9px">15</b>
<b class="l t" style="left:246.0px;top:604.9px">15</b>
<b class="l t" style="left:261.4px;top:604.9px">18</b>
<b class="l t" style="left:277.2px;top:604.9px">24</b>
<b class="l t" style="left:295.1px;top:604.9px">25</b>
<b class="r" style="left:322.2px;top:606.8px">18.0</b>
<b class="l" style="left:372.3px;top:606.8px"><span style="font-size:7.6px">&plusmn;</span> 5.5</b>
<b class="l" style="left:421.4px;top:606.8px">0.001</b>
<i class="d" style="left:478px;top:610px"></i>
<b class="g" style="left:0;top:641.5px">18</b>
<b class="c" style="left:55.6px;top:642.0px">40</b>
<b class="l" style="left:86.2px;top:641.5px">0.25</b>
<i class="d" style="left:136px;top:642px"></i>
<b class="c" style="left:178.2px;top:642.0px">160:1</b>
<b class="l t" style="left:217.2px;top:639.5px">19</b>
<b class="l t" style="left:229.7px;top:639.5px">23</b>
<b class="l t" style="left:245.1px;top:639.5px">23</b>
<b class="l t" style="left:260.4px;top:639.5px">28</b>
<b class="r" style="left:322.2px;top:641.5px">23.3</b>
<b class="l" style="left:372.3px;top:641.5px"><span style="font-size:7.6px">&plusmn;</span> 3.7</b>
<b class="l" style="left:421.4px;top:641.5px">0.001</b>
<b class="r" style="left:438.8px;top:641.5px">0.91</b>
<b class="g" style="left:0;top:658.5px">19</b>
<b class="c" style="left:55.6px;top:659.0px">40</b>
<b class="l" style="left:88.3px;top:659.0px">0.5</b>
<i class="d" style="left:136px;top:660px"></i>
<b class="c" style="left:178.2px;top:659.0px">80:1</b>
<b class="l t" style="left:217.2px;top:656.7px">15</b>
<b class="l t" style="left:229.7px;top:656.7px">25</b>
<b class="l t" style="left:245.1px;top:656.7px">26</b>
<b class="l t" style="left:260.4px;top:656.7px">26</b>
<b class="l t" style="left:277.2px;top:656.7px">31</b>
<b class="l t" style="left:295.1px;top:656.7px">58</b>
<b class="r" style="left:322.2px;top:658.2px">30.2</b>
<b class="l" style="left:372.3px;top:658.2px"><span style="font-size:7.6px">&plusmn;</span> 14.6</b>
<b class="l" style="left:421.4px;top:658.2px">0.003</b>
<b class="r" style="left:438.8px;top:658.2px">1.00</b>
<b class="g" style="left:0;top:675.5px">20</b>
<b class="c" style="left:55.6px;top:676.0px">40</b>
<b class="l" style="left:88.3px;top:676.2px">1.0</b>
<i class="d" style="left:136px;top:676px"></i>
<b class="c" style="left:178.2px;top:676.0px">40:1</b>
<b class="l t" style="left:217.2px;top:674.0px">31</b>
<b class="l t" style="left:229.7px;top:674.0px">36</b>
<b class="l t" style="left:245.1px;top:674.0px">53</b>
<b class="l t" style="left:260.4px;top:674.0px">62</b>
<b class="r" style="left:322.2px;top:675.5px">45.5</b>
<b class="l" style="left:372.3px;top:675.5px"><span style="font-size:7.6px">&plusmn;</span> 14.5</b>
<b class="l" style="left:421.4px;top:675.5px">0.001</b>
<b class="r" style="left:438.8px;top:675.5px">1.02</b>

</body></html>
